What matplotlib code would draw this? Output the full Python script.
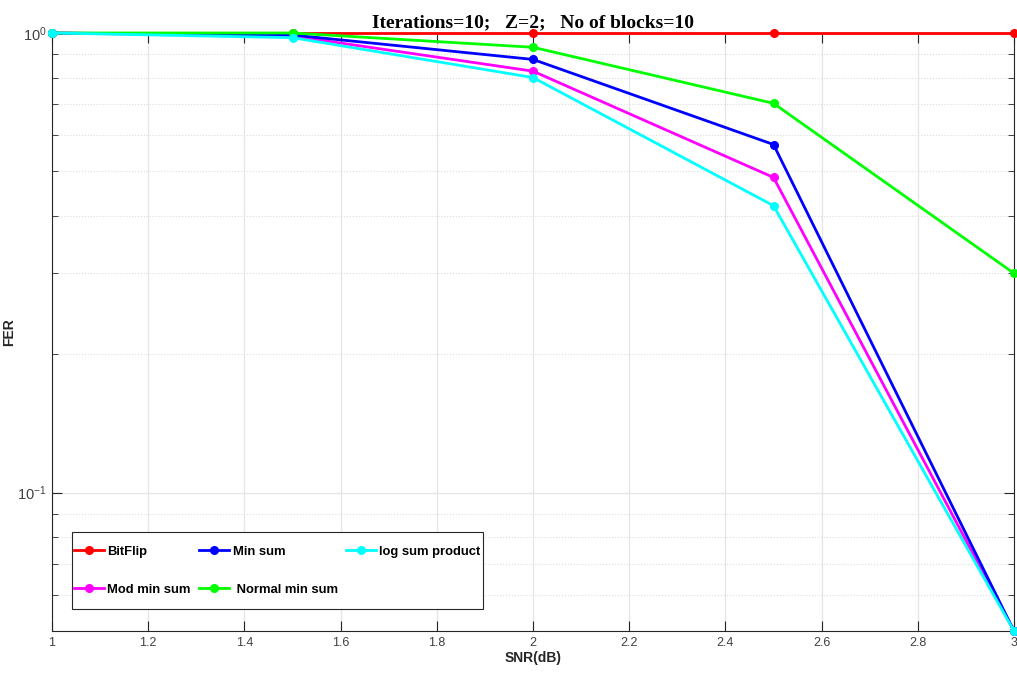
import matplotlib
matplotlib.use("Agg")
import matplotlib.pyplot as plt
from matplotlib.ticker import LogLocator, NullFormatter, FixedLocator
from matplotlib.patches import Rectangle

plt.rcParams['font.family'] = ['Liberation Sans', 'DejaVu Sans']
plt.rcParams['mathtext.fontset'] = 'custom'
plt.rcParams['mathtext.rm'] = 'Liberation Sans'
plt.rcParams['mathtext.default'] = 'regular'

snr = [1.0, 1.5, 2.0, 2.5, 3.0]
bitflip = [1.0, 1.0, 1.0, 1.0, 1.0]
min_sum = [1.0, 0.99, 0.876, 0.572, 0.05]
log_sum_product = [1.0, 0.977, 0.80, 0.421, 0.05]
mod_min_sum = [1.0, 0.985, 0.826, 0.485, 0.05]
normal_min_sum = [1.0, 1.0, 0.931, 0.703, 0.30]

series = [
    ("BitFlip", bitflip, "#ff0000"),
    ("Mod min sum", mod_min_sum, "#ff00ff"),
    ("Min sum", min_sum, "#0000ff"),
    (" Normal min sum", normal_min_sum, "#00ff00"),
    ("log sum product", log_sum_product, "#00ffff"),
]

fig = plt.figure(figsize=(10.17, 6.77), dpi=100)
ax = fig.add_axes([52/1017, 1-631/677, (1014-52)/1017, (631-33)/677])

handles = []
for name, vals, col in series:
    h, = ax.semilogy(snr, vals, '-o', color=col, lw=2, ms=5.5, label=name, clip_on=False, zorder=3)
    handles.append(h)

ax.set_xlim(1, 3)
ax.set_ylim(0.05, 1.0)
ax.set_xticks([1, 1.2, 1.4, 1.6, 1.8, 2, 2.2, 2.4, 2.6, 2.8, 3])
ax.set_xticklabels(['1', '1.2', '1.4', '1.6', '1.8', '2', '2.2', '2.4', '2.6', '2.8', '3'])
ax.yaxis.set_major_locator(FixedLocator([0.1, 1.0]))
ax.set_yticklabels([r'$10^{-1}$', r'$10^{0}$'])
ax.yaxis.set_minor_locator(LogLocator(base=10, subs=range(2, 10)))
ax.yaxis.set_minor_formatter(NullFormatter())

ax.tick_params(which='both', direction='in', top=True, right=True, labelsize=9,
               labelcolor='#404040', color='#262626')
ax.tick_params(axis='y', labelsize=10.5)
ax.tick_params(which='major', length=7, pad=4)
ax.tick_params(which='minor', length=4)
ax.grid(True, axis='x', which='major', color='#e6e6e6', lw=1)
ax.grid(True, axis='y', which='major', color='#e6e6e6', lw=1)
ax.grid(True, axis='y', which='minor', color='#dcdcdc', lw=0.8, ls=':')
ax.set_axisbelow(True)
for s in ax.spines.values():
    s.set_color('#262626')
    s.set_linewidth(0.8)

ax.set_xlabel('SNR(dB)', fontsize=10, fontweight='bold', color='#262626', labelpad=2)
ax.set_ylabel('FER', fontsize=10, fontweight='bold', color='#262626')
ax.yaxis.set_label_coords((16 - 52) / 962, 0.5)
ax.set_title('Iterations=10;   Z=2;   No of blocks=10', fontsize=14, fontweight='bold',
             family='Liberation Serif', pad=4)

leg = ax.legend(handles, [h.get_label() for h in handles], ncol=3, loc='lower left',
                bbox_to_anchor=((67-52)/962, (631-603)/598),
                prop={'weight': 'bold', 'size': 9.4}, frameon=False,
                handlelength=2.3, handletextpad=0.25,
                columnspacing=0.65, labelspacing=2.0, borderpad=0.05)

fig.canvas.draw()
bb = leg.get_window_extent()
padx, pady = 2, 13
rect = Rectangle((bb.x0 - padx, bb.y0 - pady), bb.width + 2*padx, bb.height + 2*pady,
                 transform=None, facecolor='white', edgecolor='#262626', lw=0.8, zorder=4)
fig.add_artist(rect)
leg.set_zorder(5)
leg.remove()
fig.add_artist(leg)

fig.savefig('out.png', dpi=100)
